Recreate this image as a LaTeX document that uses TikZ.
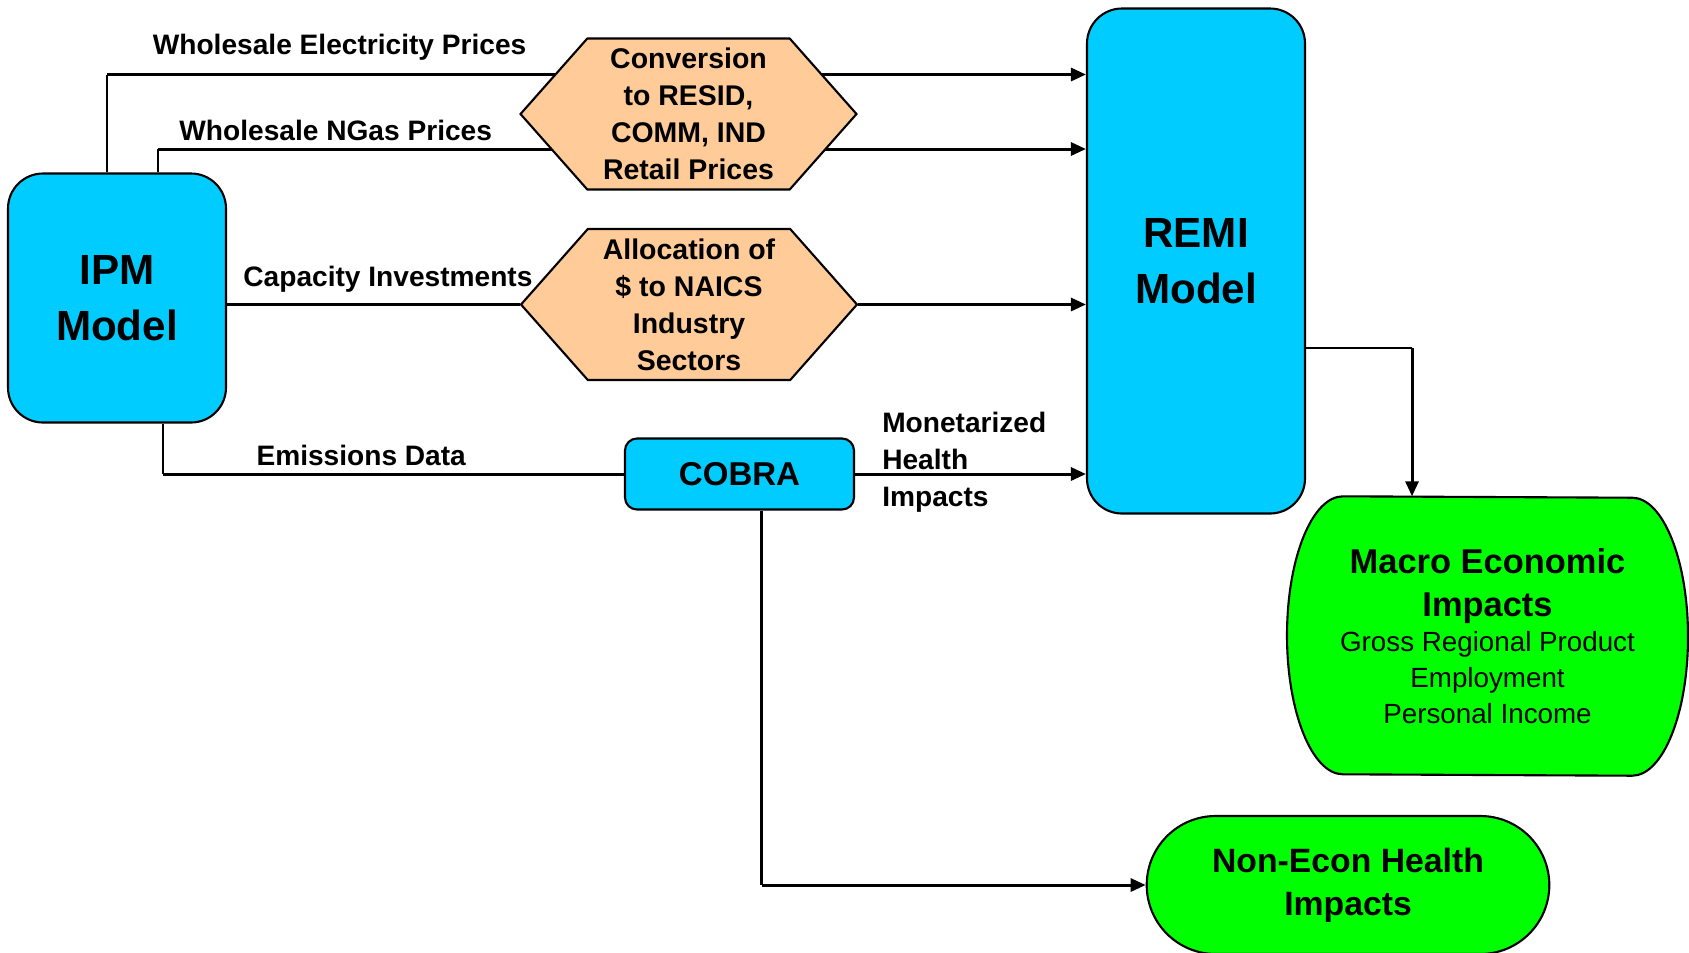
\documentclass[tikz,border=0pt]{standalone}
\usepackage{fontspec}
\setmainfont{Liberation Sans}
\usepackage{xcolor}
\usetikzlibrary{positioning,arrows.meta,shapes.symbols,shapes.misc,backgrounds}

\definecolor{remiblue}{HTML}{00CCFF}
\definecolor{impgreen}{HTML}{00FF00}
\definecolor{stepfill}{HTML}{FFCC99}

\begin{document}
\begin{tikzpicture}[>={Triangle[length=0.15cm,width=0.13cm]},
		model/.style={draw, line width=0.6pt, fill=remiblue, rounded corners=0.35cm, align=center,
			font=\bfseries\fontsize{12}{15.9}\selectfont, minimum width=2.18cm},
		convert/.style={signal, signal to=west and east, signal pointer angle=97, draw, line width=0.6pt,
			fill=stepfill, align=center, font=\bfseries\fontsize{8.1}{10.5}\selectfont,
			minimum width=3.36cm, minimum height=1.51cm, inner sep=0pt},
		impact/.style={draw, line width=0.6pt, fill=impgreen},
		link/.style={line width=0.85pt},
		stub/.style={line width=0.6pt},
		lbl/.style={font=\bfseries\fontsize{8}{10.5}\selectfont, inner sep=2pt}]
	\useasboundingbox (0,0) rectangle (16.89,-9.52);

	\node[model, minimum height=2.49cm] (ipm) at (1.17,-2.98) {IPM\\Model};
	\node[model, minimum height=5.05cm] (remi) at (11.96,-2.61) {REMI\\Model};
	\node[convert] (conv) at (6.885,-1.14) {Conversion\\to RESID,\\COMM, IND\\Retail Prices};
	\node[convert] (alloc) at (6.89,-3.045) {Allocation of\\\$ to NAICS\\Industry\\Sectors};
	\node[model, rounded corners=0.12cm, minimum width=2.29cm, minimum height=0.71cm,
		font=\bfseries\fontsize{9.4}{11}\selectfont] (cobra) at (7.395,-4.74) {COBRA};

	\node[minimum height=2.78cm, text width=3.3cm, align=flush center] (macro) at (14.875,-6.36)
		{{\fontsize{9.8}{12.2}\selectfont\bfseries Macro Economic\\Impacts\par}
		 {\fontsize{7.9}{10.2}\selectfont Gross Regional Product\\Employment\\Personal Income\par}};
	\node[impact, rounded rectangle, minimum width=4.26cm, minimum height=1.38cm, align=center,
		font=\bfseries\fontsize{9.6}{12.2}\selectfont] (health) at (13.48,-8.85) {Non-Econ Health\\Impacts};

	\node[lbl, anchor=west, align=left, inner sep=2.7pt] (money) at ([xshift=0.17cm,yshift=0.12cm]cobra.east)
		{Monetarized\\Health\\Impacts};

	\begin{scope}[on background layer]
		\draw[impact] ([xshift=-1.445cm]macro.north)
			arc[start angle=90, end angle=270, x radius=0.56cm, y radius=1.39cm] -- ([xshift=1.445cm]macro.south)
			arc[start angle=-90, end angle=90, x radius=0.56cm, y radius=1.39cm] -- cycle;

		\coordinate (elec) at (1.07,-0.745);
		\coordinate (ngas) at (1.58,-1.49);
		\coordinate (emis) at (1.63,-4.74);
		\coordinate (turn) at (14.12,-3.48);
		\coordinate (down) at (7.615,-8.85);

		% price lines through the conversion step
		\draw[stub] (ipm.north -| elec) -- (elec);
		\draw[link] (elec) -- node[lbl, above=1.7pt, pos=0.40] {Wholesale Electricity Prices} (conv |- elec);
		\draw[link, ->] (conv |- elec) -- (remi.west |- elec);

		\draw[stub] (ipm.north -| ngas) -- (ngas);
		\draw[link] (ngas) -- node[lbl, above, pos=0.335] {Wholesale NGas Prices} (conv |- ngas);
		\draw[link, ->] (conv |- ngas) -- (remi.west |- ngas);

		% investments
		\draw[link] (ipm.east |- alloc.west) -- node[lbl, above=0.9pt, pos=0.55] {Capacity Investments} (alloc.west);
		\draw[link, ->] (alloc.east) -- (remi.west |- alloc.east);

		% health side
		\draw[stub] (ipm.south -| emis) -- (emis);
		\draw[link] (emis) -- node[lbl, above, pos=0.43] {Emissions Data} (cobra.west);
		\draw[link, ->] (cobra.east) -- (remi.west |- cobra.east);

		\draw[stub] (remi.east |- turn) -- (turn);
		\draw[link, ->] (turn) -- (turn |- macro.north);

		\draw[stub] (cobra.south -| down) -- (down);
		\draw[link, ->] (down) -- (health.west);
	\end{scope}
\end{tikzpicture}
\end{document}
